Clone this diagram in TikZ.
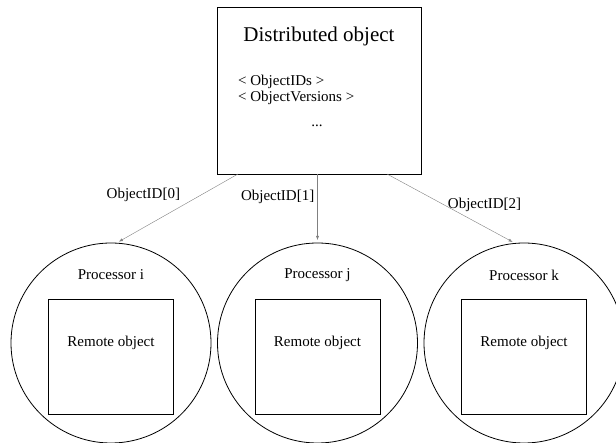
\documentclass[tikz,border=0pt]{standalone}
\usepackage{fontspec}
\setmainfont{Liberation Serif}
\usetikzlibrary{positioning, arrows.meta}

\begin{document}
\begin{tikzpicture}[
  x=1pt, y=-1pt,
  font=\fontsize{15}{18}\selectfont,
  dobj/.style={draw, line width=0.9pt, minimum width=204pt, minimum height=167pt, inner sep=0pt, outer sep=0pt},
  proc/.style={draw, circle, line width=0.8pt, minimum size=200pt, inner sep=0pt, outer sep=0pt},
  remote/.style={draw, line width=0.9pt, minimum width=125pt, minimum height=115pt, inner sep=0pt, outer sep=0pt},
  field/.style={anchor=base west, inner sep=0pt},
  link/.style={-{Latex[length=4pt, width=3pt]}, gray, line width=0.4pt, shorten >=3pt},
  idlbl/.style={inner sep=3pt, text=black}
]
\useasboundingbox (0,0) rectangle (616,443);

% Distributed object box
\node[dobj] (dobj) at (319,90.5) {};
\node[font=\fontsize{21}{25}\selectfont] (title) at ([yshift=-29pt]dobj.north) {Distributed object};
\node[field] (ids) at (238,86) {< ObjectIDs >};
\node[field] (vers) at ([yshift=-16pt]ids.base west) {< ObjectVersions >};
\node[anchor=base, inner sep=0pt] (more) at (317,127) {...};

% Processors
\node[proc] (pj) at (317.5,343) {};
\node[proc, left=6.5pt of pj] (pi) {};
\node[proc, right=6.5pt of pj] (pk) {};

\node (namei) at ([yshift=-32pt]pi.north) {Processor i};
\node (namej) at ([yshift=-32pt]pj.north) {Processor j};
\node (namek) at ([yshift=-32pt]pk.north) {Processor k};

% Remote objects
\node[remote, below=56pt of pi.north] (ri) {};
\node[remote, below=56pt of pj.north] (rj) {};
\node[remote, below=56pt of pk.north] (rk) {};
\node (texti) at (pi.center) {Remote object};
\node (textj) at (pj.center) {Remote object};
\node (textk) at (pk.center) {Remote object};

% ID links
\draw[link] ([xshift=-81pt]dobj.south) -- node[idlbl, pos=0.45, anchor=south east] (id0) {ObjectID[0]} (pi.87);
\draw[link] (dobj.south -| pj.north) -- node[idlbl, pos=0.33, anchor=east] (id1) {ObjectID[1]} (pj.north);
\draw[link] ([xshift=68pt]dobj.south) -- node[idlbl, pos=0.45, anchor=west] (id2) {ObjectID[2]} (pk.95);

\end{tikzpicture}
\end{document}
